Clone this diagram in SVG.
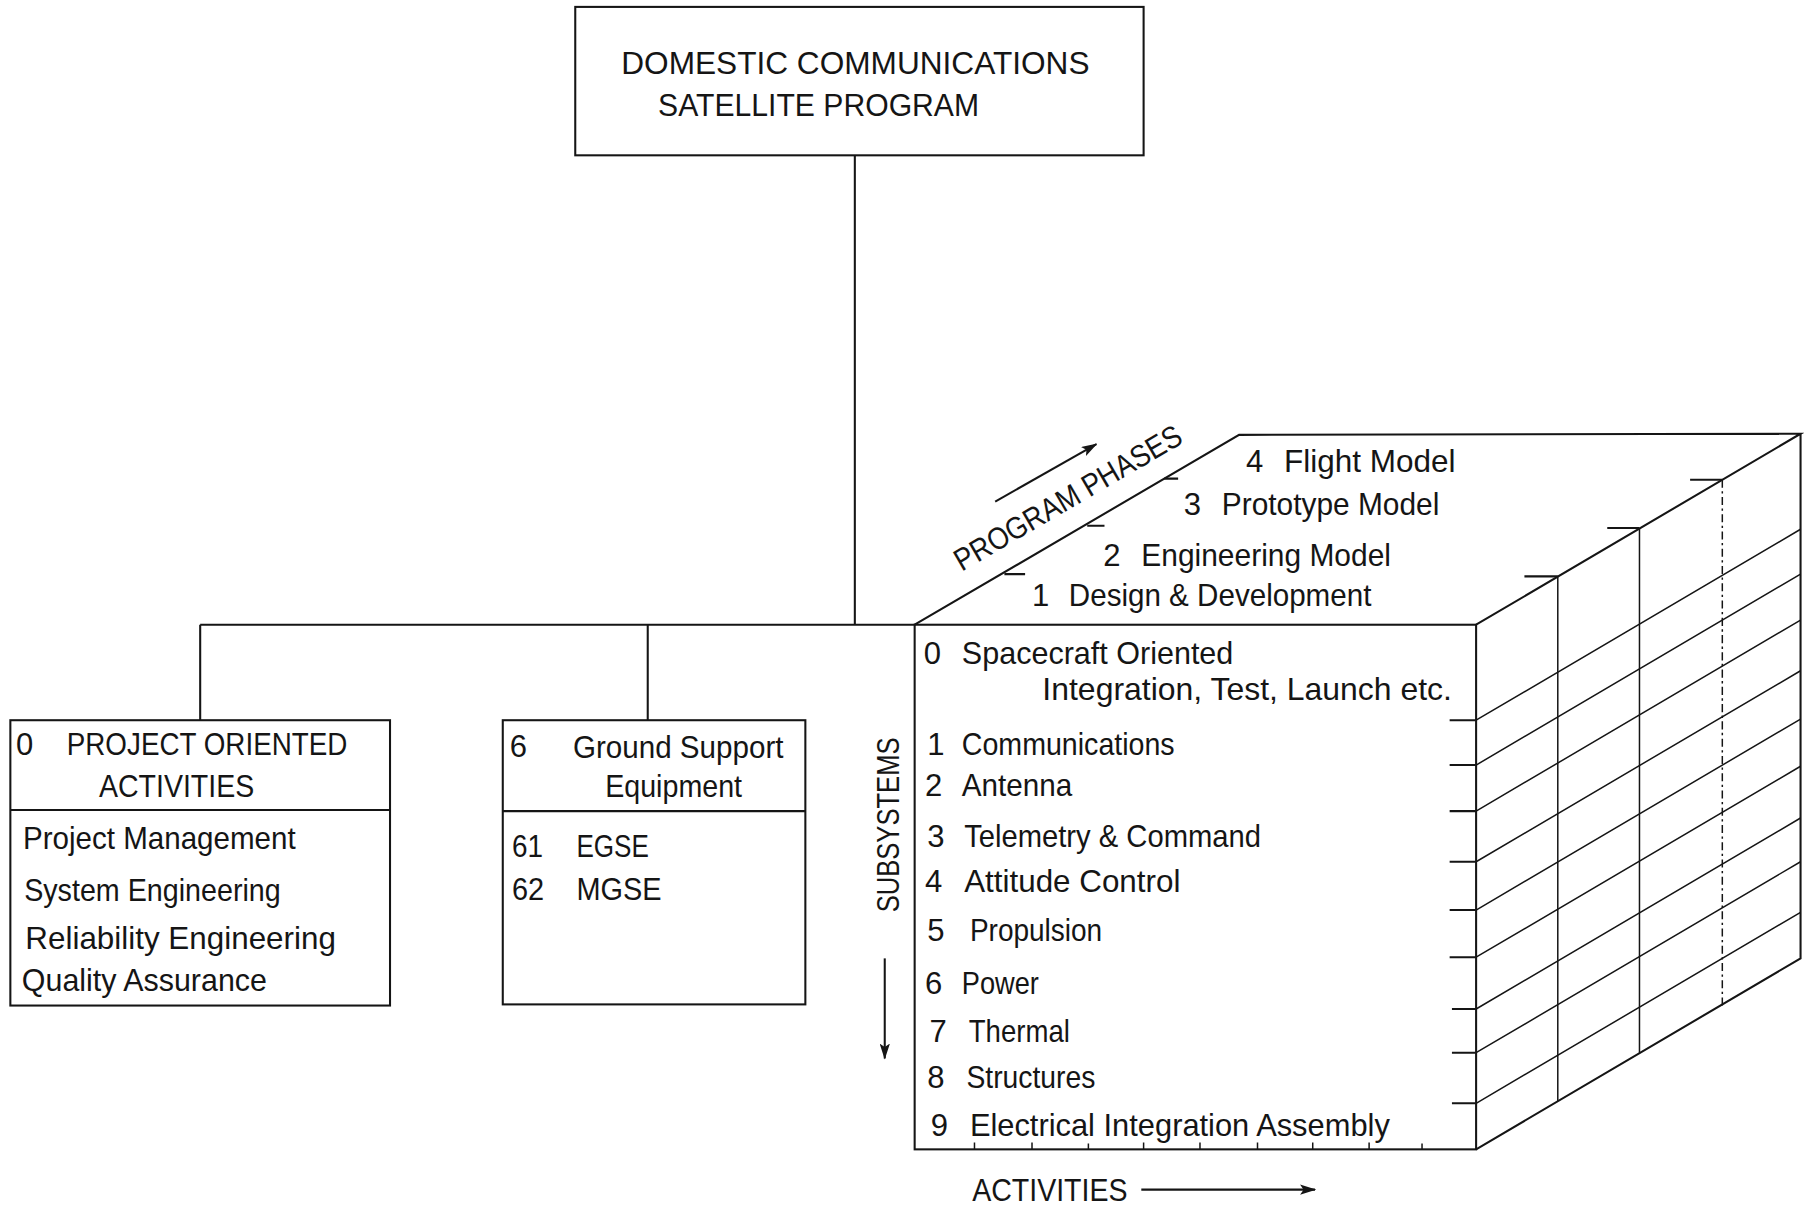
<svg xmlns="http://www.w3.org/2000/svg" width="1804" height="1209" viewBox="0 0 1804 1209">
<style>
.t{font-family:"Liberation Sans",Arial,sans-serif;font-size:27px;fill:#151515}
.h{font-size:28px}
.b{fill:none;stroke:#151515;stroke-width:1.8}
.g{fill:none;stroke:#151515;stroke-width:1.3}
.d{stroke-dasharray:7 3 2 3}
</style>
<defs>
<marker id="ah" markerUnits="userSpaceOnUse" markerWidth="14" markerHeight="9" refX="13" refY="4.5" orient="auto">
<path d="M0,0 L14,4.5 L0,9 L3,4.5 z" fill="#151515"/>
</marker>
</defs>
<rect width="1804" height="1209" fill="#ffffff"/>
<g transform="scale(1.15051)">
<g id="connectors">
<path class="b" d="M743,135 V543 M174,543 H795 M174,543 V626 M563,543 V626"/>
</g>
<g id="program">
<rect class="b" x="500" y="6" width="494" height="129"/>
<text class="t h" x="540" y="64" textLength="407" lengthAdjust="spacingAndGlyphs">DOMESTIC COMMUNICATIONS</text>
<text class="t h" x="572" y="101" textLength="279" lengthAdjust="spacingAndGlyphs">SATELLITE PROGRAM</text>
</g>
<g id="project-oriented">
<rect class="b" x="9" y="626" width="330" height="248"/>
<line class="b" x1="9" y1="704" x2="339" y2="704"/>
<text class="t" x="14" y="656">0</text>
<text class="t" x="58" y="656" textLength="244" lengthAdjust="spacingAndGlyphs">PROJECT ORIENTED</text>
<text class="t" x="86" y="693" textLength="135" lengthAdjust="spacingAndGlyphs">ACTIVITIES</text>
<text class="t" x="20" y="738" textLength="237" lengthAdjust="spacingAndGlyphs">Project Management</text>
<text class="t" x="21" y="783" textLength="223" lengthAdjust="spacingAndGlyphs">System Engineering</text>
<text class="t" x="22" y="825" textLength="270" lengthAdjust="spacingAndGlyphs">Reliability Engineering</text>
<text class="t" x="19" y="861" textLength="213" lengthAdjust="spacingAndGlyphs">Quality Assurance</text>
</g>
<g id="ground-support">
<rect class="b" x="437" y="626" width="263" height="247"/>
<line class="b" x1="437" y1="705" x2="700" y2="705"/>
<text class="t" x="443" y="658">6</text>
<text class="t" x="498" y="659" textLength="183" lengthAdjust="spacingAndGlyphs">Ground Support</text>
<text class="t" x="526" y="693" textLength="119" lengthAdjust="spacingAndGlyphs">Equipment</text>
<text class="t" x="445" y="745" textLength="27" lengthAdjust="spacingAndGlyphs">61</text>
<text class="t" x="501" y="745" textLength="63" lengthAdjust="spacingAndGlyphs">EGSE</text>
<text class="t" x="445" y="782" textLength="28" lengthAdjust="spacingAndGlyphs">62</text>
<text class="t" x="501" y="782" textLength="74" lengthAdjust="spacingAndGlyphs">MGSE</text>
</g>
<g id="cube">
<rect class="b" x="795" y="543" width="488" height="456"/>
<path class="b" d="M795,543 L1077,378 L1565,377 L1283,543 M1565,377 V833 L1283,999"/>
<path class="g" d="M1283,626 L1565,460 M1283,665 L1565,499 M1283,705 L1565,539 M1283,749 L1565,583 M1283,791 L1565,625 M1283,832 L1565,666 M1283,877 L1565,711 M1283,915 L1565,749 M1283,959 L1565,793"/>
<path class="b" d="M1260,626 H1283 M1260,665 H1283 M1260,705 H1283 M1260,749 H1283 M1260,791 H1283 M1260,832 H1283 M1262,877 H1283 M1262,915 H1283 M1262,959 H1283"/>
<path class="g" d="M1354,501 V957 M1425,459 V915"/>
<path class="g d" d="M1497,417 V874"/>
<path class="b" d="M1325,501 H1354 M1397,459 H1425 M1469,417 H1497"/>
<path class="b" d="M873,499 H891 M945,457 H960 M1012,416 H1024"/>
<path class="g" d="M847,999 V993 M897,999 V993 M946,999 V994 M994,999 V993 M1043,999 V993 M1093,999 V993 M1141,999 V993 M1190,999 V993 M1236,999 V994"/>
<text class="t" x="1083" y="410">4</text>
<text class="t" x="1116" y="410" textLength="149" lengthAdjust="spacingAndGlyphs">Flight Model</text>
<text class="t" x="1029" y="448">3</text>
<text class="t" x="1062" y="448" textLength="189" lengthAdjust="spacingAndGlyphs">Prototype Model</text>
<text class="t" x="959" y="492">2</text>
<text class="t" x="992" y="492" textLength="217" lengthAdjust="spacingAndGlyphs">Engineering Model</text>
<text class="t" x="897" y="527">1</text>
<text class="t" x="929" y="527" textLength="263" lengthAdjust="spacingAndGlyphs">Design &amp; Development</text>
<text class="t" x="803" y="577">0</text>
<text class="t" x="836" y="577" textLength="236" lengthAdjust="spacingAndGlyphs">Spacecraft Oriented</text>
<text class="t" x="906" y="608" textLength="356" lengthAdjust="spacingAndGlyphs">Integration, Test, Launch etc.</text>
<text class="t" x="806" y="656">1</text>
<text class="t" x="836" y="656" textLength="185" lengthAdjust="spacingAndGlyphs">Communications</text>
<text class="t" x="804" y="692">2</text>
<text class="t" x="836" y="692" textLength="96" lengthAdjust="spacingAndGlyphs">Antenna</text>
<text class="t" x="806" y="736">3</text>
<text class="t" x="838" y="736" textLength="258" lengthAdjust="spacingAndGlyphs">Telemetry &amp; Command</text>
<text class="t" x="804" y="775">4</text>
<text class="t" x="838" y="775" textLength="188" lengthAdjust="spacingAndGlyphs">Attitude Control</text>
<text class="t" x="806" y="818">5</text>
<text class="t" x="843" y="818" textLength="115" lengthAdjust="spacingAndGlyphs">Propulsion</text>
<text class="t" x="804" y="864">6</text>
<text class="t" x="836" y="864" textLength="67" lengthAdjust="spacingAndGlyphs">Power</text>
<text class="t" x="808" y="906">7</text>
<text class="t" x="842" y="906" textLength="88" lengthAdjust="spacingAndGlyphs">Thermal</text>
<text class="t" x="806" y="946">8</text>
<text class="t" x="840" y="946" textLength="112" lengthAdjust="spacingAndGlyphs">Structures</text>
<text class="t" x="809" y="987">9</text>
<text class="t" x="843" y="987" textLength="365" lengthAdjust="spacingAndGlyphs">Electrical Integration Assembly</text>
</g>
<g id="axis-labels">
<text class="t" transform="translate(836,497) rotate(-30.2)" x="0" y="0" textLength="224" lengthAdjust="spacingAndGlyphs">PROGRAM PHASES</text>
<line class="b" x1="865" y1="436" x2="953" y2="386" marker-end="url(#ah)"/>
<text class="t" transform="translate(781,793) rotate(-90)" x="0" y="0" textLength="152" lengthAdjust="spacingAndGlyphs">SUBSYSTEMS</text>
<line class="b" x1="769" y1="833" x2="769" y2="920" marker-end="url(#ah)"/>
<text class="t" x="845" y="1044" textLength="135" lengthAdjust="spacingAndGlyphs">ACTIVITIES</text>
<line class="b" x1="992" y1="1034" x2="1143" y2="1034" marker-end="url(#ah)"/>
</g>
</g>
</svg>
